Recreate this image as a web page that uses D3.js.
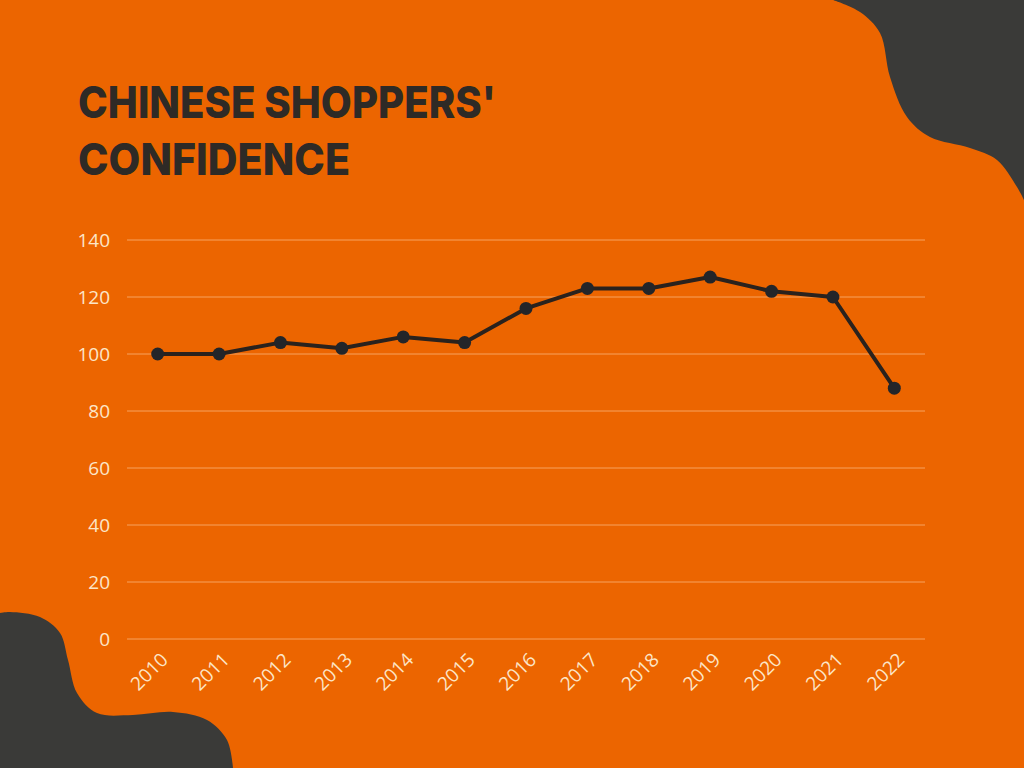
<!DOCTYPE html>
<html><head><meta charset="utf-8">
<script src="https://cdn.jsdelivr.net/npm/d3@7"></script>
<style>html,body{margin:0;padding:0;background:#EC6500;}svg{display:block}</style>
</head><body>
<svg id="c" width="1024" height="768"></svg>
<script>
const years = ["2010","2011","2012","2013","2014","2015","2016","2017","2018","2019","2020","2021","2022"];
const confidence = [100,100,104,102,106,104,116,123,123,127,122,120,88];
const yTicks = [0,20,40,60,80,100,120,140];
const titleLines = ["CHINESE SHOPPERS'", "CONFIDENCE"];

const svg = d3.select("#c");
const W = 1024, H = 768;
svg.append("rect").attr("width", W).attr("height", H).attr("fill", "#EC6500");

// decorative corner blobs
const curve = d3.line().curve(d3.curveCatmullRom.alpha(0.5));
const trEdge = [[833,0],[860,12],[880,33],[890,77],[907,117],[930,137],[970,148],[997,160],[1017,187],[1024,200]];
svg.append("path").attr("d", curve(trEdge) + "L1026,200L1026,-2L833,-2Z").attr("fill", "#3A3A38");
const blEdge = [[0,613],[10,612],[40,617],[60,633],[68,660],[77,693],[97,713],[133,715],[173,712],[207,720],[227,740],[233,768]];
svg.append("path").attr("d", curve(blEdge) + "L233,770L-2,770L-2,613Z").attr("fill", "#3A3A38");

// title
const title = svg.append("text").attr("fill", "#2E2A26")
  .style("font-family", "Inter, sans-serif").style("font-weight", "800").style("font-size", "44px");
title.append("tspan").attr("x", 78).attr("y", 118).attr("textLength", 418).attr("lengthAdjust","spacingAndGlyphs").text(titleLines[0]);
title.append("tspan").attr("x", 78).attr("y", 175).attr("textLength", 272).attr("lengthAdjust","spacingAndGlyphs").text(titleLines[1]);

const pLeft = 127, pRight = 925, pTop = 240, pBottom = 639;
const x = d3.scalePoint().domain(years).range([pLeft, pRight]).padding(0.5);
const y = d3.scaleLinear().domain([0, 140]).range([pBottom, pTop]);

// gridlines
svg.append("g").selectAll("line").data(yTicks).join("line")
  .attr("x1", pLeft).attr("x2", pRight)
  .attr("y1", d => y(d)).attr("y2", d => y(d))
  .attr("stroke", "#F7A35E").attr("stroke-width", 1);

const yAxis = svg.append("g").attr("transform", `translate(${pLeft},0)`)
  .call(d3.axisLeft(y).tickValues(yTicks).tickSize(0).tickPadding(17));
yAxis.select(".domain").remove();
yAxis.selectAll("text").attr("fill", "#FCE6C8").style("font-family", "'Open Sans', sans-serif").style("font-size", "19px");

const xAxis = svg.append("g").attr("transform", `translate(0,${pBottom})`)
  .call(d3.axisBottom(x).tickSize(0).tickPadding(0));
xAxis.select(".domain").remove();
xAxis.selectAll("text").attr("fill", "#FCE6C8").style("font-family", "'Open Sans', sans-serif").style("font-size", "19px")
  .attr("text-anchor", "end").attr("dy", null)
  .attr("transform", "translate(11,22) rotate(-45)");

// line
svg.append("path").datum(confidence)
  .attr("d", d3.line().x((d,i) => x(years[i])).y(d => y(d)))
  .attr("fill", "none").attr("stroke", "#2A221D").attr("stroke-width", 4).attr("stroke-linejoin", "round");

svg.append("g").selectAll("circle").data(confidence).join("circle")
  .attr("cx", (d,i) => x(years[i])).attr("cy", d => y(d)).attr("r", 6.5)
  .attr("fill", "#232529");
</script>
</body></html>
